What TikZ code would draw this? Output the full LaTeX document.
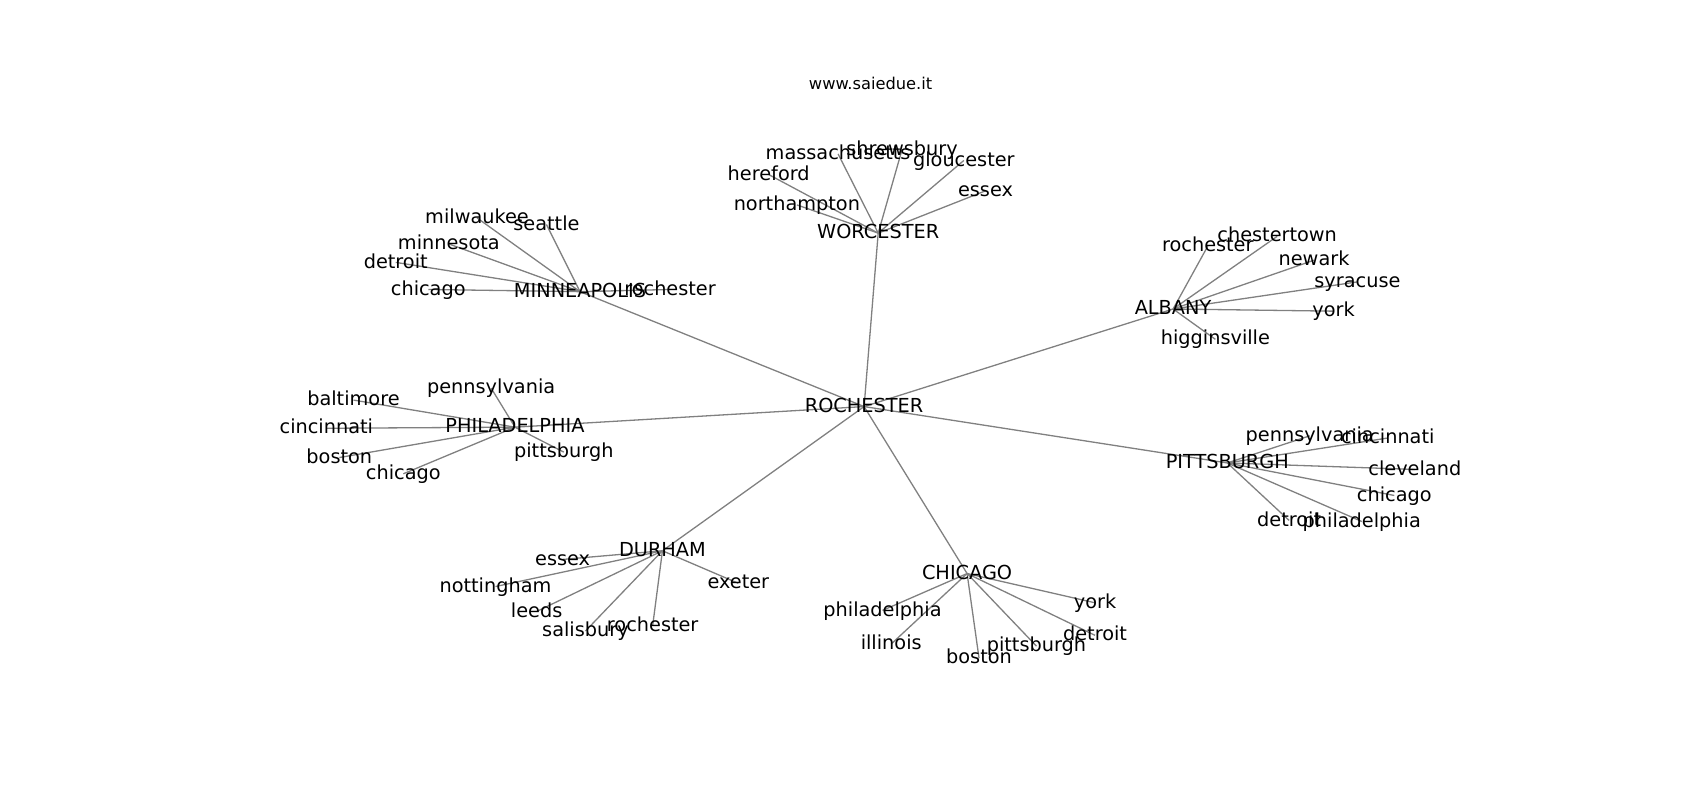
\documentclass[tikz,border=0pt]{standalone}
\usepackage{fontspec}
\setmainfont{DejaVu Sans}
\usetikzlibrary{backgrounds}
\tikzset{
  lbl/.style={inner sep=0pt, text height=0.76em, text depth=0.24em, font=\fontsize{8.9pt}{10pt}\selectfont, text=black},
  ttl/.style={inner sep=0pt, font=\fontsize{7.5pt}{9pt}\selectfont, text=black},
  edge/.style={draw=gray, line width=0.6pt}
}
\begin{document}
\begin{tikzpicture}[x=0.5pt,y=-0.5pt,yshift=-0.5pt]
\useasboundingbox (0,0) rectangle (1568,738);
\node[ttl] (title) at (803,77) {www.saiedue.it};
% hubs
\node[lbl] (R) at (797,375) {ROCHESTER};
\node[lbl] (W) at (810,215) {WORCESTER};
\node[lbl] (M) at (535,269) {MINNEAPOLIS};
\node[lbl] (A) at (1082,285) {ALBANY};
\node[lbl] (P) at (475,394) {PHILADELPHIA};
\node[lbl] (PT) at (1132,427) {PITTSBURGH};
\node[lbl] (D) at (611,508) {DURHAM};
\node[lbl] (C) at (892,529) {CHICAGO};
% worcester
\node[lbl] (w1) at (773,142) {massachusetts};
\node[lbl] (w2) at (832,138) {shrewsbury};
\node[lbl] (w3) at (889,148) {gloucester};
\node[lbl] (w4) at (709,161) {hereford};
\node[lbl] (w5) at (735,189) {northampton};
\node[lbl] (w6) at (909,176) {essex};
% minneapolis
\node[lbl] (m1) at (440,201) {milwaukee};
\node[lbl] (m2) at (504,207) {seattle};
\node[lbl] (m3) at (414,225) {minnesota};
\node[lbl] (m4) at (365,242) {detroit};
\node[lbl] (m5) at (395,267) {chicago};
\node[lbl] (m6) at (618,267) {rochester};
% albany
\node[lbl] (a1) at (1114,227) {rochester};
\node[lbl] (a2) at (1178,218) {chestertown};
\node[lbl] (a3) at (1212,240) {newark};
\node[lbl] (a4) at (1252,260) {syracuse};
\node[lbl] (a5) at (1230,287) {york};
\node[lbl] (a6) at (1121,313) {higginsville};
% philadelphia
\node[lbl] (p1) at (453,358) {pennsylvania};
\node[lbl] (p2) at (326,369) {baltimore};
\node[lbl] (p3) at (301,395) {cincinnati};
\node[lbl] (p4) at (313,422) {boston};
\node[lbl] (p5) at (372,437) {chicago};
\node[lbl] (p6) at (520,417) {pittsburgh};
% pittsburgh
\node[lbl] (t1) at (1208,402) {pennsylvania};
\node[lbl] (t2) at (1280,404) {cincinnati};
\node[lbl] (t3) at (1305,433) {cleveland};
\node[lbl] (t4) at (1286,457) {chicago};
\node[lbl] (t5) at (1189,480) {detroit};
\node[lbl] (t6) at (1256,481) {philadelphia};
% durham
\node[lbl] (d1) at (519,516) {essex};
\node[lbl] (d2) at (457,541) {nottingham};
\node[lbl] (d3) at (495,564) {leeds};
\node[lbl] (d4) at (540,582) {salisbury};
\node[lbl] (d5) at (602,577) {rochester};
\node[lbl] (d6) at (681,538) {exeter};
% chicago
\node[lbl] (c1) at (814,563) {philadelphia};
\node[lbl] (c2) at (822,594) {illinois};
\node[lbl] (c3) at (903,607) {boston};
\node[lbl] (c4) at (956,596) {pittsburgh};
\node[lbl] (c5) at (1010,586) {detroit};
\node[lbl] (c6) at (1010,556) {york};
\begin{pgfonlayer}{background}
\foreach \h in {W,M,A,P,PT,D,C} \draw[edge] (R.center) -- (\h.center);
\foreach \n in {w1,w2,w3,w4,w5,w6} \draw[edge] (W.center) -- (\n.center);
\foreach \n in {m1,m2,m3,m4,m5,m6} \draw[edge] (M.center) -- (\n.center);
\foreach \n in {a1,a2,a3,a4,a5,a6} \draw[edge] (A.center) -- (\n.center);
\foreach \n in {p1,p2,p3,p4,p5,p6} \draw[edge] (P.center) -- (\n.center);
\foreach \n in {t1,t2,t3,t4,t5,t6} \draw[edge] (PT.center) -- (\n.center);
\foreach \n in {d1,d2,d3,d4,d5,d6} \draw[edge] (D.center) -- (\n.center);
\foreach \n in {c1,c2,c3,c4,c5,c6} \draw[edge] (C.center) -- (\n.center);
\end{pgfonlayer}
\end{tikzpicture}
\end{document}
